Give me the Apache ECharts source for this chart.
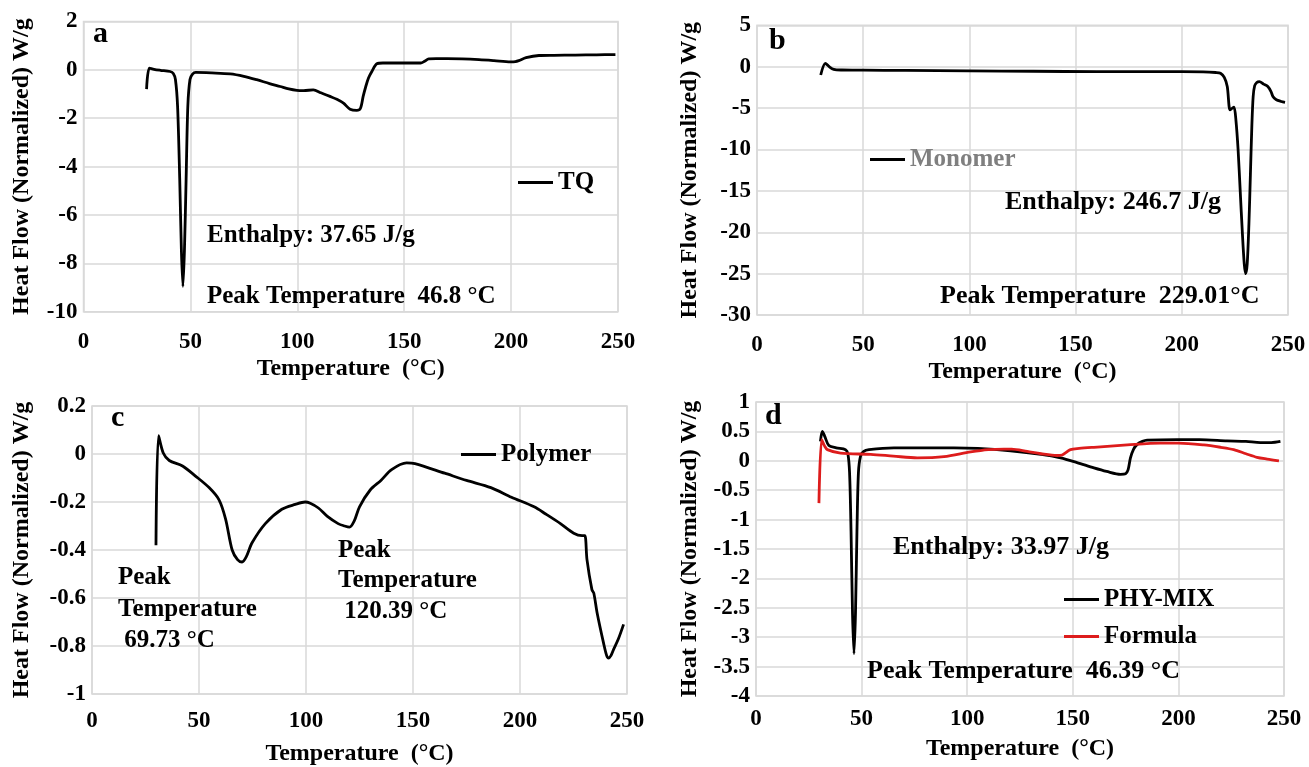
<!DOCTYPE html>
<html>
<head>
<meta charset="utf-8">
<script src="https://cdn.jsdelivr.net/npm/echarts@6/dist/echarts.min.js"></script>
<style>
html, body { margin: 0; background: #fff; }
#chart { width: 1309px; height: 767px; }
</style>
</head>
<body>
<div id="chart"></div>
<script>
// a: TQ
const tqTemp = [29.5, 30.8, 33, 36, 40.5, 42, 43, 44, 45, 45.8, 46.5, 47.2, 48, 48.8, 49.8, 51, 52.5, 60, 68.6, 75, 81, 87, 92, 96, 99.8, 103, 107.5, 111, 115.3, 118.5, 121.6, 124.7, 127.8, 129.5, 130.8, 132, 133.3, 135, 137.2, 140, 145, 150, 157.7, 159.5, 161.5, 165, 170, 177, 185, 192, 199.7, 202, 203.6, 207, 213, 220, 230, 240, 248.8]
const tqFlow = [-0.8, 0.07, 0.02, -0.02, -0.07, -0.15, -0.4, -1.5, -4.5, -7.5, -8.95, -7.5, -4.5, -1.5, -0.4, -0.18, -0.11, -0.13, -0.17, -0.27, -0.41, -0.57, -0.69, -0.79, -0.85, -0.86, -0.83, -0.95, -1.1, -1.22, -1.38, -1.63, -1.68, -1.6, -1.1, -0.7, -0.34, -0.05, 0.25, 0.28, 0.28, 0.28, 0.28, 0.35, 0.45, 0.46, 0.46, 0.45, 0.42, 0.38, 0.33, 0.34, 0.38, 0.5, 0.59, 0.6, 0.61, 0.62, 0.63]

// b: Monomer
const mnTemp = [30, 32.2, 34, 36.1, 40, 50, 70, 100, 130, 160, 190, 210, 216, 218.2, 220, 221.4, 222.7, 223.8, 224.6, 225.5, 226.5, 227.5, 228.5, 229.4, 230.1, 230.8, 231.6, 232.3, 233, 233.6, 234.3, 235.3, 236.5, 238.5, 240.5, 242, 242.9, 244.5, 246.8, 248.6]
const mnFlow = [-1.0, 0.4, 0, -0.32, -0.4, -0.42, -0.45, -0.5, -0.55, -0.6, -0.6, -0.62, -0.7, -0.8, -1.3, -2.4, -5.2, -5.0, -4.9, -6.5, -10, -15, -20, -23.8, -25, -23.8, -19, -13, -7, -3.6, -2.3, -1.9, -1.8, -2.1, -2.4, -3.0, -3.6, -4.0, -4.2, -4.3]

// c: Polymer
const pmTemp = [29.9, 31.1, 33.3, 36.1, 42.3, 48.5, 54.7, 59.3, 62.4, 65.5, 68, 70.1, 72, 74.8, 81, 88.7, 95, 99.6, 102, 105.8, 110, 115, 118, 120.3, 122.5, 125, 130, 135, 140, 147, 150.9, 164.8, 175, 186.4, 196, 206.6, 212, 218.9, 225.1, 229, 230.3, 231.3, 233.6, 234.5, 236, 239.1, 240.5, 241.4, 242.5, 243.7, 246, 248.4]
const pmFlow = [-0.38, 0.076, 0.004, -0.027, -0.05, -0.093, -0.14, -0.19, -0.27, -0.4, -0.44, -0.45, -0.43, -0.37, -0.29, -0.23, -0.21, -0.2, -0.205, -0.225, -0.26, -0.29, -0.3, -0.305, -0.28, -0.22, -0.15, -0.11, -0.065, -0.037, -0.04, -0.08, -0.11, -0.14, -0.18, -0.22, -0.25, -0.29, -0.33, -0.34, -0.34, -0.44, -0.565, -0.58, -0.66, -0.79, -0.84, -0.85, -0.84, -0.815, -0.77, -0.71]

// d: PHY-MIX and Formula
const pxTemp = [30.5, 31.4, 32.5, 34.5, 38, 42.4, 43.5, 44.3, 45, 45.7, 46.4, 47.1, 47.8, 48.5, 49.5, 51, 53.5, 65.3, 80, 93.7, 105, 120.5, 135, 144.2, 152, 160, 166, 172.6, 175, 176.2, 177.3, 178.8, 180.5, 183, 185.2, 199.3, 210, 223, 232, 238.8, 244, 248.3]
const pxFlow = [0.33, 0.5, 0.42, 0.26, 0.22, 0.19, 0.12, -0.2, -1.2, -2.6, -3.28, -2.6, -1.2, -0.2, 0.08, 0.16, 0.19, 0.22, 0.22, 0.22, 0.21, 0.17, 0.11, 0.05, -0.03, -0.12, -0.18, -0.23, -0.22, -0.15, 0.05, 0.2, 0.28, 0.33, 0.35, 0.36, 0.36, 0.34, 0.33, 0.31, 0.31, 0.33]
const fmTemp = [29.8, 31.1, 32.5, 33.8, 40, 54.3, 65, 76.4, 89, 101.6, 110, 117.4, 121, 128.4, 135, 142.6, 145, 148.9, 153, 160, 175.8, 191.5, 200, 212, 220, 226.2, 232, 237.2, 242, 247.6]
const fmFlow = [-0.72, 0.36, 0.25, 0.19, 0.13, 0.11, 0.08, 0.05, 0.07, 0.15, 0.19, 0.2, 0.2, 0.16, 0.12, 0.09, 0.1, 0.19, 0.21, 0.23, 0.27, 0.3, 0.3, 0.27, 0.23, 0.19, 0.12, 0.06, 0.03, 0.0]

const xTicks = [0, 250, 50]
const yRanges = [[-10, 2, 2], [-30, 5, 5], [-1, 0.2, 0.2], [-4, 1, 0.5]]

const font = 'Liberation Serif'
const gridColor = '#d9d9d9'

const pairs = function (xs, ys) {
    return xs.map((x, i) => [x, ys[i]])
}

const panels = [
    { grid: { left: 83.5, top: 21.4, width: 534.5, height: 290.4 }, xMargin: 19, xGap: 45, yGap: 50 },
    { grid: { left: 757, top: 25.3, width: 531, height: 289.8 }, xMargin: 18, xGap: 45, yGap: 55 },
    { grid: { left: 92, top: 406, width: 535, height: 288 }, xMargin: 16, xGap: 48, yGap: 58 },
    { grid: { left: 756, top: 402, width: 528, height: 294 }, xMargin: 12, xGap: 41, yGap: 54 },
]

const labelStyle = { fontFamily: font, fontWeight: 'bold', fontSize: 23, color: '#000' }
const nameStyle = { fontFamily: font, fontWeight: 'bold', fontSize: 24, color: '#000' }

const grid = []
const xAxis = []
const yAxis = []
panels.forEach((p, i) => {
    grid.push(Object.assign({ show: true, borderColor: gridColor, borderWidth: 1.5 }, p.grid))
    xAxis.push({
        type: 'value', gridIndex: i,
        min: xTicks[0], max: xTicks[1], interval: xTicks[2],
        axisLine: { show: false }, axisTick: { show: false },
        splitLine: { lineStyle: { color: gridColor, width: 1.5 } },
        axisLabel: Object.assign({ margin: p.xMargin }, labelStyle),
        name: 'Temperature  (°C)', nameLocation: 'middle', nameGap: p.xGap,
        nameTextStyle: nameStyle,
    })
    yAxis.push({
        type: 'value', gridIndex: i,
        min: yRanges[i][0], max: yRanges[i][1], interval: yRanges[i][2],
        axisLine: { show: false }, axisTick: { show: false },
        splitLine: { lineStyle: { color: gridColor, width: 1.5 } },
        axisLabel: Object.assign({ margin: 6 }, labelStyle),
        name: 'Heat Flow (Normalized) W/g', nameLocation: 'middle', nameGap: p.yGap,
        nameTextStyle: nameStyle,
    })
})

const line = function (name, idx, data, color) {
    return {
        name: name, type: 'line', xAxisIndex: idx, yAxisIndex: idx,
        data: data, showSymbol: false, symbol: 'none',
        smooth: 0.3,
        lineStyle: { color: color, width: 2.8 },
        itemStyle: { color: color },
        z: 3,
    }
}

const legendBase = {
    icon: 'rect', itemWidth: 35, itemHeight: 3, padding: 0,
    textStyle: { fontFamily: font, fontWeight: 'bold', fontSize: 25, color: '#000' },
}

// text placed by its vertical centre
const txt = function (s, left, mid, size) {
    size = size || 25
    return {
        type: 'text', left: left, top: Math.round(mid - size / 2 - 1), z: 10,
        style: { text: s, fontFamily: font, fontWeight: 'bold', fontSize: size, fill: '#000' },
    }
}

const option = {
    animation: false,
    backgroundColor: '#fff',
    grid: grid,
    xAxis: xAxis,
    yAxis: yAxis,
    legend: [
        Object.assign({ data: ['TQ'], left: 518, top: 170 }, legendBase),
        Object.assign({ data: ['Monomer'], left: 870, top: 147 }, legendBase,
            { textStyle: Object.assign({}, legendBase.textStyle, { color: '#7f7f7f' }) }),
        Object.assign({ data: ['Polymer'], left: 461, top: 442 }, legendBase),
        Object.assign({ data: ['PHY-MIX', 'Formula'], left: 1064, top: 587, orient: 'vertical', itemGap: 12 }, legendBase),
    ],
    series: [
        line('TQ', 0, pairs(tqTemp, tqFlow), '#000'),
        line('Monomer', 1, pairs(mnTemp, mnFlow), '#000'),
        line('Polymer', 2, pairs(pmTemp, pmFlow), '#000'),
        line('PHY-MIX', 3, pairs(pxTemp, pxFlow), '#000'),
        line('Formula', 3, pairs(fmTemp, fmFlow), '#dd1c1c'),
    ],
    graphic: [
        txt('a', 93, 35, 30),
        txt('b', 769, 42, 30),
        txt('c', 111, 419, 30),
        txt('d', 765, 417, 30),
        txt('Enthalpy: 37.65 J/g', 207, 236),
        txt('Peak Temperature  46.8 °C', 207, 297),
        txt('Enthalpy: 246.7 J/g', 1005, 203, 26),
        txt('Peak Temperature  229.01°C', 940, 297, 26),
        txt('Peak', 118, 578),
        txt('Temperature', 118, 610),
        txt(' 69.73 °C', 118, 641),
        txt('Peak', 338, 551),
        txt('Temperature', 338, 581),
        txt(' 120.39 °C', 338, 612),
        txt('Enthalpy: 33.97 J/g', 893, 548, 26),
        txt('Peak Temperature  46.39 °C', 867, 672, 26),
    ],
}

const myChart = echarts.init(document.querySelector('#chart'))
myChart.setOption(option)
</script>
</body>
</html>
